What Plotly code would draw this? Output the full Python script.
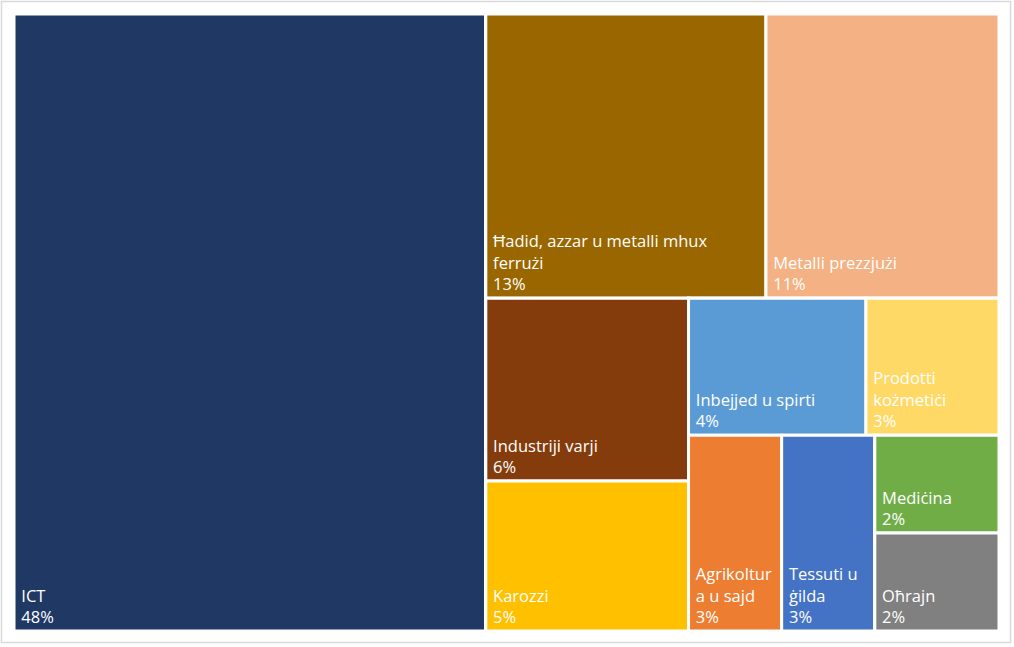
import plotly.graph_objects as go

# sehem tal-esportazzjoni skont is-settur (%)
settori = ["ICT", "Ħadid, azzar u metalli mhux ferrużi", "Metalli prezzjużi",
           "Industriji varji", "Karozzi", "Inbejjed u spirti", "Prodotti kożmetiċi",
           "Agrikoltura u sajd", "Tessuti u ġilda", "Mediċina", "Oħrajn"]
sehem = [47.9, 13.1, 10.9, 6.1, 5.0, 4.0, 3.0, 3.0, 3.0, 2.0, 2.0]

# tikketti kif jidhru fil-kaxxi (bil-qtugħ tal-linji)
tikketti = ["ICT", "Ħadid, azzar u metalli mhux<br>ferrużi", "Metalli prezzjużi",
            "Industriji varji", "Karozzi", "Inbejjed u spirti", "Prodotti<br>kożmetiċi",
            "Agrikoltur<br>a u sajd", "Tessuti u<br>ġilda", "Mediċina", "Oħrajn"]

kuluri = ["#1F3864", "#996600", "#F4B183", "#843C0C", "#FFC000", "#5B9BD5",
          "#FFD966", "#ED7D31", "#4472C4", "#70AD47", "#808080"]

# gruppi moħbija biex it-tqassim slice-dice jagħti l-istess arranġament
gruppi = ["tot", "g_a", "g_t", "g_b", "g_c", "g_d", "g_e", "g_f", "g_g"]
gruppi_parent = ["", "tot", "g_a", "g_a", "g_b", "g_b", "g_d", "g_d", "g_f"]
settori_parent = ["tot", "g_t", "g_t", "g_c", "g_c", "g_e", "g_e", "g_f", "g_f", "g_g", "g_g"]

sp = "\u00a0"
tmpl_leaf = [sp + t.replace("<br>", "<br>" + sp) + "<br>" + sp + "%{percentRoot:.0%}"
             for t in tikketti]

ids = settori + gruppi
fig = go.Figure(go.Treemap(
    ids=ids,
    labels=settori + [""] * len(gruppi),
    parents=settori_parent + gruppi_parent,
    values=sehem + [0] * len(gruppi),
    branchvalues="remainder",
    texttemplate=tmpl_leaf + [""] * len(gruppi),
    textposition="bottom left",
    textfont=dict(family="Open Sans, sans-serif", size=16.5, color="white"),
    marker=dict(colors=kuluri + ["white"] * len(gruppi),
                line=dict(color="white", width=3),
                pad=dict(t=0, l=0, r=0, b=0)),
    tiling=dict(packing="slice-dice", pad=0),
    pathbar=dict(visible=False),
    sort=False,
    hovertemplate="%{label}<br>%{value}%<extra></extra>",
))

fig.update_layout(
    width=1014,
    height=647,
    margin=dict(l=14, r=15, t=14, b=16),
    paper_bgcolor="white",
    shapes=[dict(type="rect", xref="paper", yref="paper",
                 x0=-0.0127, x1=1.0117, y0=-0.0186, y1=1.0203,
                 line=dict(color="#D9D9D9", width=1.5))],
)

fig.write_html("out.html", post_script="document.body.style.margin = '0';",
               config={"displayModeBar": False})
